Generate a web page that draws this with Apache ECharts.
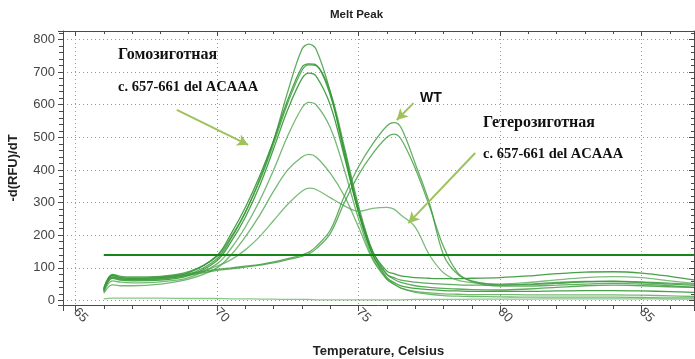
<!DOCTYPE html>
<html><head><meta charset="utf-8">
<script src="https://cdn.jsdelivr.net/npm/echarts@6/dist/echarts.min.js"></script>
<style>html,body{margin:0;padding:0;background:#fff}#c{width:695px;height:359px}</style>
</head><body><div id="c"></div>
<script>
const temps = [66.0, 66.3, 66.6, 67, 68, 69, 70, 70.5, 71, 71.5, 72, 72.5, 73, 73.25, 73.5, 74, 74.5, 75, 75.5, 76, 76.25, 76.5, 77, 77.5, 78, 78.5, 79, 80, 81, 82, 83, 84, 85, 86, 86.85];

const homo1 = [38,80,74,72,74,88,135,195,270,370,490,640,770,786,770,640,450,270,140,80,70,62,56,52,50,48,47,47,50,55,58,58,55,50,46];
const homo2 = [34,78,70,68,70,85,138,205,285,380,490,615,715,725,722,630,460,280,150,90,82,75,70,68,67,67,68,70,75,82,87,88,84,74,63];
const homo3 = [30,72,66,64,66,80,128,190,270,365,480,605,705,722,720,640,470,290,150,80,65,55,45,40,37,35,33,32,35,40,45,47,45,42,40];
const homo4 = [28,68,62,60,62,76,122,180,255,350,465,585,680,697,688,600,440,270,140,70,55,45,37,33,30,29,28,28,28,29,30,30,29,27,25];
const homo5 = [25,60,56,54,57,70,112,160,225,305,400,505,590,607,600,530,400,250,130,65,50,38,28,23,20,19,18,18,17,17,17,17,16,14,12];
const homo6 = [22,48,45,45,50,65,100,140,195,260,335,400,440,448,440,390,320,225,125,65,50,38,25,19,15,13,12,11,10,10,10,10,9,8,8];
const hetero = [30,70,64,62,65,78,105,125,155,195,245,295,335,344,340,315,290,273,282,285,280,262,225,140,85,62,55,50,55,63,70,73,70,60,52];
const wt1 = [35,76,70,68,72,82,95,100,105,110,118,128,140,148,165,215,320,410,480,535,545,530,420,300,140,80,60,48,48,52,57,59,57,53,50];
const wt2 = [32,72,66,64,68,78,92,97,102,108,115,125,135,143,158,205,300,385,450,500,510,495,405,290,165,85,58,44,44,47,50,52,50,45,40];
const control = [5,7,7,7,7,6,6,5,5,4,4,3,3,3,2,2,2,2,2,2,2,2,3,3,3,3,4,4,4,5,5,5,5,4,4];

const thresholdValue = 139;
const thresholdRange = [66.0, 86.85];

const xRange = [64.56, 86.85];
const yRange = [-14, 826];

// annotation arrows in data coordinates [from, to]
const arrows = [
  [[68.58, 584], [71.1, 477]],
  [[76.94, 605], [76.35, 553]],
  [[79.12, 452], [76.76, 237]]
];

const labels = {
  homoTitle: 'Гомозиготная',
  homoSub: 'c. 657-661 del ACAAA',
  wt: 'WT',
  hetTitle: 'Гетерозиготная',
  hetSub: 'c. 657-661 del ACAAA'
};

const curveSets = [
  {name:'homo1', data:homo1, color:'rgba(52,150,52,0.8)'},
  {name:'homo2', data:homo2, color:'rgba(40,145,40,0.85)'},
  {name:'homo3', data:homo3, color:'rgba(52,150,52,0.8)'},
  {name:'homo4', data:homo4, color:'rgba(40,145,40,0.85)'},
  {name:'homo5', data:homo5, color:'rgba(70,160,70,0.75)'},
  {name:'homo6', data:homo6, color:'rgba(70,160,70,0.75)'},
  {name:'hetero', data:hetero, color:'rgba(80,165,80,0.75)'},
  {name:'wt1', data:wt1, color:'rgba(60,155,60,0.8)'},
  {name:'wt2', data:wt2, color:'rgba(60,155,60,0.8)'},
  {name:'control', data:control, color:'rgba(90,175,90,0.7)'}
];

const chart = echarts.init(document.getElementById('c'), null, {renderer:'canvas'});

const series = curveSets.map(c => ({
  name: c.name,
  type: 'line',
  data: temps.map((t, i) => [t, c.data[i]]),
  showSymbol: false,
  smooth: 0.35,
  lineStyle: {color: c.color, width: 1.3},
  itemStyle: {color: c.color},
  silent: true,
  z: 3
}));

series.push({
  name: 'threshold',
  type: 'line',
  data: thresholdRange.map(t => [t, thresholdValue]),
  showSymbol: false,
  lineStyle: {color: '#17861a', width: 2},
  silent: true,
  z: 4
});

series.push({
  name: 'arrows',
  type: 'line',
  data: [],
  silent: true,
  markLine: {
    silent: true,
    animation: false,
    symbol: ['none', 'arrow'],
    symbolSize: [9, 11],
    label: {show: false},
    lineStyle: {color: '#a0c25c', width: 2, type: 'solid'},
    emphasis: {disabled: true},
    data: arrows.map(a => [{coord: a[0]}, {coord: a[1]}])
  },
  z: 5
});

const axisColor = '#4a4a4a';
const labelFont = {fontFamily: 'Liberation Sans', fontSize: 13, color: '#444'};

const option = {
  animation: false,
  backgroundColor: '#fff',
  title: {
    text: 'Melt Peak', left: 330, top: 9, padding: 0,
    textStyle: {fontFamily: 'Liberation Sans', fontSize: 11.5, fontWeight: 'bold', color: '#222'}
  },
  grid: {left: 63, right: 1, top: 31, bottom: 54, containLabel: false, outerBoundsMode: 'none'},
  xAxis: [{
    type: 'value', min: xRange[0], max: xRange[1], position: 'bottom',
    name: 'Temperature, Celsius', nameLocation: 'middle', nameGap: 40,
    nameTextStyle: {fontFamily: 'Liberation Sans', fontSize: 13, fontWeight: 'bold', color: '#222'},
    axisLine: {show: true, onZero: false, lineStyle: {color: axisColor, width: 1}},
    axisTick: {show: true, length: 6, lineStyle: {color: axisColor}},
    minorTick: {show: true, splitNumber: 5, length: 4, lineStyle: {color: axisColor}},
    axisLabel: Object.assign({rotate: -45, margin: 5, showMinLabel: false, showMaxLabel: false}, labelFont),
    splitLine: {show: true, lineStyle: {color: '#9a9a9a', type: [1, 3], width: 1}}
  }, {
    type: 'value', min: xRange[0], max: xRange[1], position: 'top',
    axisLine: {show: true, onZero: false, lineStyle: {color: axisColor, width: 1}},
    axisTick: {show: true, inside: true, length: 5, lineStyle: {color: axisColor}},
    minorTick: {show: true, splitNumber: 5, length: 3, lineStyle: {color: axisColor}},
    axisLabel: {show: false},
    splitLine: {show: false}
  }],
  yAxis: [{
    type: 'value', min: yRange[0], max: yRange[1], splitNumber: 8, position: 'left',
    name: '-d(RFU)/dT', nameLocation: 'middle', nameGap: 43,
    nameTextStyle: {fontFamily: 'Liberation Sans', fontSize: 13, fontWeight: 'bold', color: '#222'},
    axisLine: {show: true, onZero: false, lineStyle: {color: axisColor, width: 1}},
    axisTick: {show: true, length: 5, lineStyle: {color: axisColor}},
    minorTick: {show: true, splitNumber: 5, length: 4, lineStyle: {color: axisColor}},
    axisLabel: Object.assign({margin: 8, showMinLabel: false, showMaxLabel: false}, labelFont),
    splitLine: {show: true, lineStyle: {color: '#9a9a9a', type: [1, 3], width: 1}}
  }, {
    type: 'value', min: yRange[0], max: yRange[1], splitNumber: 8, position: 'right',
    axisLine: {show: true, onZero: false, lineStyle: {color: axisColor, width: 1}},
    axisTick: {show: true, inside: true, length: 5, lineStyle: {color: axisColor}},
    minorTick: {show: true, splitNumber: 5, length: 3, lineStyle: {color: axisColor}},
    axisLabel: {show: false},
    splitLine: {show: false}
  }],
  series: series,
  graphic: [
    {type: 'text', left: 118, top: 47, silent: true,
     style: {text: labels.homoTitle, font: 'bold 16px "Liberation Serif"', fill: '#111'}},
    {type: 'text', left: 118, top: 80, silent: true,
     style: {text: labels.homoSub, font: 'bold 14.5px "Liberation Serif"', fill: '#111'}},
    {type: 'text', left: 420, top: 91, silent: true,
     style: {text: labels.wt, font: 'bold 14px "Liberation Sans"', fill: '#111'}},
    {type: 'text', left: 483, top: 115, silent: true,
     style: {text: labels.hetTitle, font: 'bold 16px "Liberation Serif"', fill: '#111'}},
    {type: 'text', left: 483, top: 147, silent: true,
     style: {text: labels.hetSub, font: 'bold 14.5px "Liberation Serif"', fill: '#111'}}
  ]
};

chart.setOption(option);
</script>
</body></html>
